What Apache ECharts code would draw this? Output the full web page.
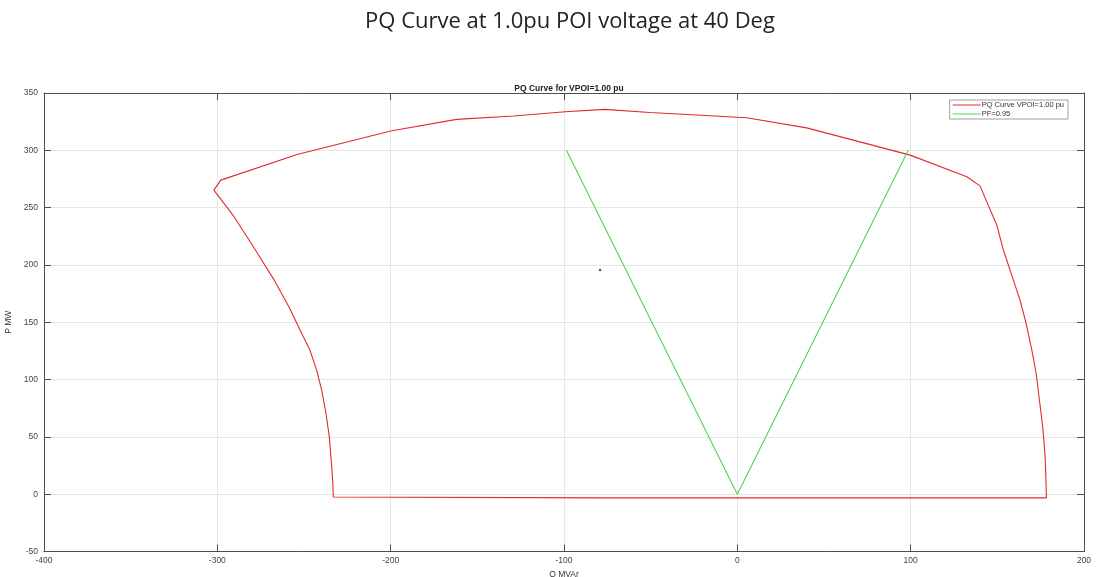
<!DOCTYPE html>
<html>
<head>
<meta charset="utf-8">
<script src="https://cdn.jsdelivr.net/npm/echarts@6/dist/echarts.min.js"></script>
<style>
html,body{margin:0;padding:0;background:#fff;}
#c{width:1096px;height:577px;}
</style>
</head>
<body>
<div id="c"></div>
<script>
// PQ capability curve (Q MVAr, P MW), traced around the boundary
const pqCurveQ = [-233.1, -233.4, -234, -235.4, -237.3, -239.8, -242.7, -246.6, -252.2, -258.2, -267.3, -278, -291, -302, -298, -254, -200, -162, -129, -99.4, -76.3, -50.4, 5.4, 40, 99.7, 132.4, 140, 149.7, 153.5, 158.3, 163.1, 166.6, 169.9, 172.4, 174.3, 176.2, 177.6, 178.1, 178.3, -77, -78, -233.1];
const pqCurveP = [-2.5, 10, 23.8, 50, 70.4, 90.8, 108.2, 125.7, 143.1, 162, 187, 213, 243.5, 265.3, 274, 296.4, 316.8, 327, 330, 333.6, 335.7, 333, 328.4, 319.6, 295.8, 276.9, 269, 234.7, 213, 191.1, 169.3, 149, 125.7, 105.3, 82, 58.7, 32.5, 9.3, -3.2, -3.2, -2.5, -2.5];
// PF = 0.95 lines
const pfQ = [-98.6, 0, 98.6];
const pfP = [300, 0, 300];
// stray marker
const dotQ = [-79.2];
const dotP = [195.5];

const xTicks = {min: -400, max: 200, interval: 100};
const yTicks = {min: -50, max: 350, interval: 50};

const zip = (a, b) => a.map((v, i) => [v, b[i]]);

const chart = echarts.init(document.getElementById('c'));
const axisCol = '#4d4d4d';
const labFont = 'Liberation Sans';

chart.setOption({
  animation: false,
  backgroundColor: '#ffffff',
  title: [
    {text: 'PQ Curve at 1.0pu POI voltage at 40 Deg', left: 565, top: 6, textAlign: 'center',
     textStyle: {fontFamily: 'Open Sans', fontSize: 22, fontWeight: 'normal', color: '#222'}},
    {text: 'PQ Curve for VPOI=1.00 pu', left: 564, top: 79, textAlign: 'center',
     textStyle: {fontFamily: labFont, fontSize: 8.5, fontWeight: 'bold', color: '#222'}}
  ],
  legend: {
    data: ['PQ Curve VPOI=1.00 pu', 'PF=0.95'],
    orient: 'vertical', right: 28, top: 100,
    itemWidth: 28, itemHeight: 1, itemGap: 1, icon: 'rect',
    padding: [1, 4, 1, 3],
    borderColor: '#888', borderWidth: 0.8, backgroundColor: '#fff',
    textStyle: {fontFamily: labFont, fontSize: 7.5, color: '#333', padding: [0, 0, 0, -4]}
  },
  grid: {left: 44, right: 12, top: 93, bottom: 25.5, containLabel: false, outerBoundsMode: 'none'},
  xAxis: [
    {type: 'value', position: 'bottom', min: xTicks.min, max: xTicks.max, interval: xTicks.interval,
     name: 'Q MVAr', nameLocation: 'middle', nameGap: 13,
     nameTextStyle: {fontFamily: labFont, fontSize: 8.5, color: '#333'},
     axisLine: {show: true, onZero: false, lineStyle: {color: axisCol, width: 1}},
     axisTick: {show: true, inside: true, length: 7, lineStyle: {color: axisCol}},
     axisLabel: {fontFamily: labFont, fontSize: 8.5, color: '#444', margin: 5},
     splitLine: {show: true, lineStyle: {color: '#e6e6e6', width: 1}}},
    {type: 'value', position: 'top', min: xTicks.min, max: xTicks.max, interval: xTicks.interval,
     axisLine: {show: true, onZero: false, lineStyle: {color: axisCol, width: 1}},
     axisTick: {show: true, inside: true, length: 7, lineStyle: {color: axisCol}},
     axisLabel: {show: false}, splitLine: {show: false}}
  ],
  yAxis: [
    {type: 'value', position: 'left', min: yTicks.min, max: yTicks.max, interval: yTicks.interval,
     name: 'P MW', nameLocation: 'middle', nameGap: 27,
     nameTextStyle: {fontFamily: labFont, fontSize: 8.5, color: '#333'},
     axisLine: {show: true, onZero: false, lineStyle: {color: axisCol, width: 1}},
     axisTick: {show: true, inside: true, length: 7, lineStyle: {color: axisCol}},
     axisLabel: {fontFamily: labFont, fontSize: 8.5, color: '#444', margin: 6},
     splitLine: {show: true, lineStyle: {color: '#e6e6e6', width: 1}}},
    {type: 'value', position: 'right', min: yTicks.min, max: yTicks.max, interval: yTicks.interval,
     axisLine: {show: true, onZero: false, lineStyle: {color: axisCol, width: 1}},
     axisTick: {show: true, inside: true, length: 7, lineStyle: {color: axisCol}},
     axisLabel: {show: false}, splitLine: {show: false}}
  ],
  series: [
    {name: 'PQ Curve VPOI=1.00 pu', type: 'line', data: zip(pqCurveQ, pqCurveP),
     showSymbol: false, symbol: 'none', lineStyle: {color: '#e02a30', width: 1.1}, itemStyle: {color: '#e02a30'}},
    {name: 'PF=0.95', type: 'line', data: zip(pfQ, pfP),
     showSymbol: false, symbol: 'none', lineStyle: {color: '#52d452', width: 1.1}, itemStyle: {color: '#52d452'}},
    {name: 'dot', type: 'scatter', data: zip(dotQ, dotP), symbolSize: 2.5,
     itemStyle: {color: '#1a1a8c'}}
  ]
});
</script>
</body>
</html>
